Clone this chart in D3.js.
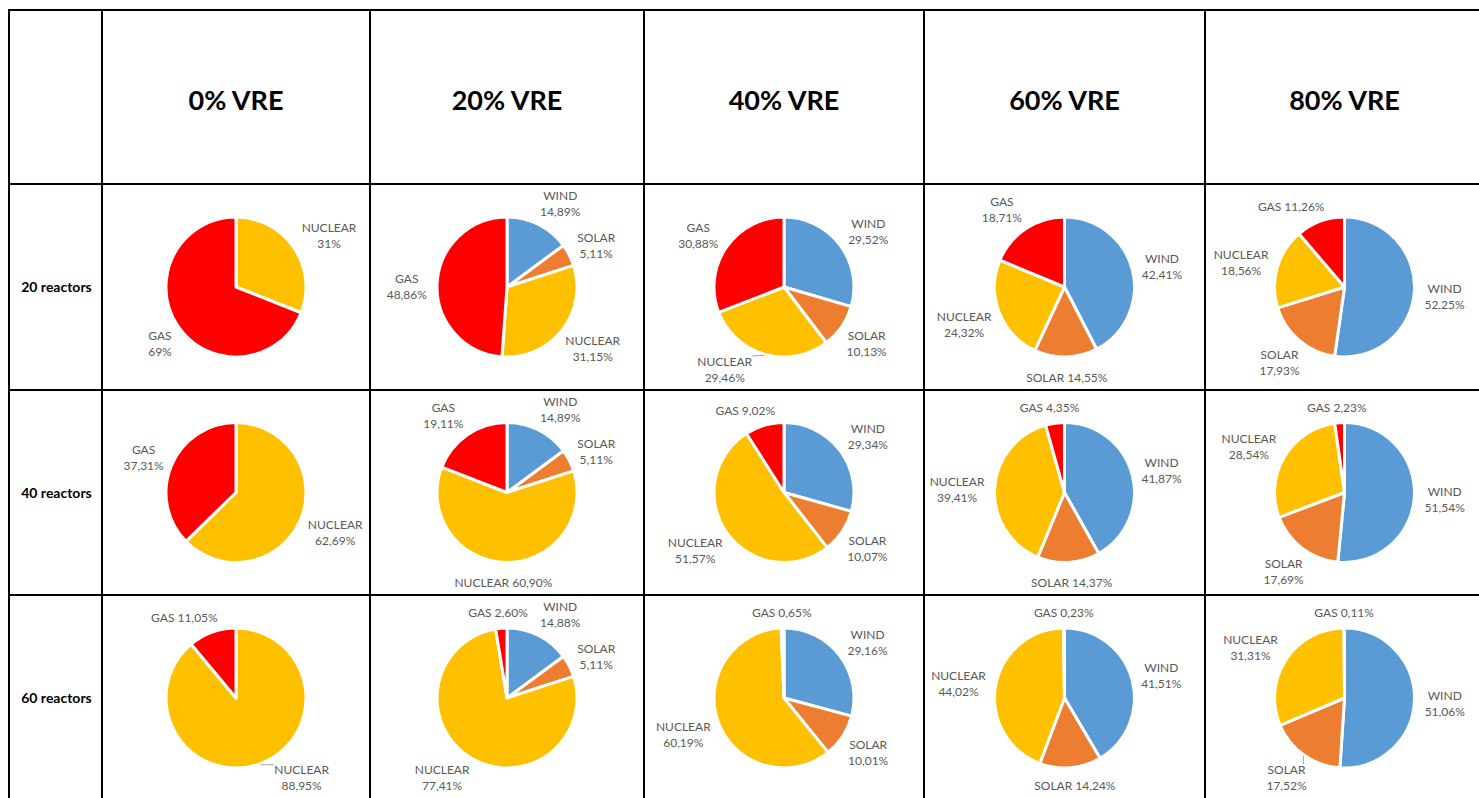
<!DOCTYPE html>
<html>
<head>
<meta charset="utf-8">
<script src="https://cdn.jsdelivr.net/npm/d3@7"></script>
<style>
  body { margin: 0; background: #fff; }
  text { font-family: Lato, "Noto Sans", sans-serif; }
</style>
</head>
<body>
<svg id="chart"></svg>
<script>
// columns = share of variable renewables, rows = size of the reactor fleet
const scenarios = ["0% VRE", "20% VRE", "40% VRE", "60% VRE", "80% VRE"];
const fleets = ["20 reactors", "40 reactors", "60 reactors"];
const sources = ["WIND", "SOLAR", "NUCLEAR", "GAS"];

// one array per source, one row per fleet, one value per scenario (% of generation)
const wind = [
  [0, 14.89, 29.52, 42.41, 52.25],
  [0, 14.89, 29.34, 41.87, 51.54],
  [0, 14.88, 29.16, 41.51, 51.06]
];
const solar = [
  [0, 5.11, 10.13, 14.55, 17.93],
  [0, 5.11, 10.07, 14.37, 17.69],
  [0, 5.11, 10.01, 14.24, 17.52]
];
const nuclear = [
  [31, 31.15, 29.46, 24.32, 18.56],
  [62.69, 60.90, 51.57, 39.41, 28.54],
  [88.95, 77.41, 60.19, 44.02, 31.31]
];
const gas = [
  [69, 48.86, 30.88, 18.71, 11.26],
  [37.31, 19.11, 9.02, 4.35, 2.23],
  [11.05, 2.60, 0.65, 0.23, 0.11]
];
const series = [wind, solar, nuclear, gas];

let width = 1479;
let height = 798;
let radius = 70;
let lineH = 16;

// table grid edges
let colEdges = [9, 102, 370, 644, 924, 1205, 1484];
let rowEdges = [10, 184, 390, 595, 801];

let color = d3.scaleOrdinal()
  .domain(sources)
  .range(['#5b9bd5', '#ed7d31', '#ffc000', '#ff0000']);

let pie = d3.pie()
  .sort(null)
  .value(d => d.value);

let arc = d3.arc()
  .innerRadius(0)
  .outerRadius(radius);

let fmt = v => Number.isInteger(v) ? v + '%' : v.toFixed(2).replace('.', ',') + '%';

let svg = d3.select('#chart')
  .attr('width', width)
  .attr('height', height);

// header texts
svg.selectAll('.head')
  .data(scenarios)
  .enter()
  .append('text')
  .attr('class', 'head')
  .attr('x', (d, i) => (colEdges[i + 1] + colEdges[i + 2]) / 2)
  .attr('y', (rowEdges[0] + rowEdges[1]) / 2 + 13)
  .style('text-anchor', 'middle')
  .style('font-weight', 'bold')
  .style('font-size', '27px')
  .text(d => d);

// row labels
svg.selectAll('.rowlab')
  .data(fleets)
  .enter()
  .append('text')
  .attr('class', 'rowlab')
  .attr('x', (colEdges[0] + colEdges[1]) / 2 + 1)
  .attr('y', (d, i) => (rowEdges[i + 1] + rowEdges[i + 2]) / 2 + 5)
  .style('text-anchor', 'middle')
  .style('font-weight', 'bold')
  .style('font-size', '14px')
  .text(d => d);

let overlap = (a, b) => a.x0 < b.x1 && b.x0 < a.x1 && a.y0 < b.y1 && b.y0 < a.y1;

// pies
fleets.forEach((fleet, r) => {
  scenarios.forEach((sc, c) => {
    let cx = (colEdges[c + 1] + colEdges[c + 2]) / 2;
    let cy = (rowEdges[r + 1] + rowEdges[r + 2]) / 2;
    let top = rowEdges[r + 1] + 4 - cy;
    let bottom = Math.min(rowEdges[r + 2], height) - 4 - cy;
    let slices = sources.map((s, k) => ({ name: s, value: series[k][r][c] }));
    let arcs = pie(slices);

    let g = svg.append('g')
      .attr('transform', 'translate(' + cx + ',' + cy + ')');

    g.selectAll('path')
      .data(arcs)
      .enter()
      .append('path')
      .attr('d', arc)
      .style('fill', d => color(d.data.name))
      .style('stroke', '#fff')
      .style('stroke-width', 3)
      .style('stroke-linejoin', 'round');

    let placed = [];
    g.selectAll('.lab')
      .data(arcs.filter(d => d.data.value > 0))
      .enter()
      .append('text')
      .attr('class', 'lab')
      .style('font-size', '12px')
      .style('fill', '#595959')
      .style('text-anchor', 'middle')
      .each(function (d) {
        let a = (d.startAngle + d.endAngle) / 2;
        let s = Math.sin(a), k = Math.cos(a);
        let t = d3.select(this);
        let oneLine = k > 0.93 || k < -0.97;
        let lines = oneLine ? [d.data.name + ' ' + fmt(d.data.value)]
                            : [d.data.name, fmt(d.data.value)];
        lines.forEach((l, i) => {
          t.append('tspan').attr('x', 0).attr('dy', i ? lineH : 0).text(l);
        });
        let w = this.getBBox().width, h = lines.length * lineH;
        let R = radius + 10;
        let bx = R * s + w / 2 * s;
        let by = -R * k - h / 2 * k + 3;
        let clamped = false;
        // keep inside the cell
        if (by + h / 2 > bottom) { by = bottom - h / 2; clamped = true; }
        if (by - h / 2 < top) { by = top + h / 2; clamped = true; }
        let box = () => ({ x0: bx - w / 2, x1: bx + w / 2, y0: by - h / 2, y1: by + h / 2 });
        let dir = s >= 0 ? 1 : -1;
        // push sideways until clear of the pie
        let clearPie = () => {
          let b = box();
          let nx = Math.max(b.x0, Math.min(0, b.x1));
          let ny = Math.max(b.y0, Math.min(0, b.y1));
          return Math.hypot(nx, ny) > radius + 4;
        };
        let guard = 0;
        while (!clearPie() && guard++ < 200) { bx += dir; }
        // push sideways until clear of the other labels
        guard = 0;
        while (placed.some(p => overlap(p, box())) && guard++ < 200) { bx += dir; }
        placed.push(box());
        t.attr('transform', 'translate(' + bx + ',' + (by - h / 2 + 12) + ')');

        // leader line only for labels pulled back into the cell
        if (clamped && Math.abs(k) < 0.97) {
          let px = (radius + 1) * s, py = -(radius + 1) * k;
          let b = box();
          let qx = Math.max(b.x0, Math.min(px, b.x1));
          let qy = Math.max(b.y0 + 2, Math.min(py, b.y1 - 2));
          if (Math.hypot(qx - px, qy - py) > 8) {
            g.append('line')
              .attr('x1', px).attr('y1', py)
              .attr('x2', qx).attr('y2', qy)
              .style('stroke', '#a6a6a6')
              .style('stroke-width', 1);
          }
        }
      });
  });
});

// grid lines
svg.selectAll('.vline')
  .data(colEdges)
  .enter()
  .append('line')
  .attr('x1', d => d).attr('x2', d => d)
  .attr('y1', rowEdges[0]).attr('y2', rowEdges[rowEdges.length - 1])
  .style('stroke', '#000')
  .style('stroke-width', 2);

svg.selectAll('.hline')
  .data(rowEdges)
  .enter()
  .append('line')
  .attr('y1', d => d).attr('y2', d => d)
  .attr('x1', colEdges[0] - 1).attr('x2', colEdges[colEdges.length - 1])
  .style('stroke', '#000')
  .style('stroke-width', 2);
</script>
</body>
</html>
